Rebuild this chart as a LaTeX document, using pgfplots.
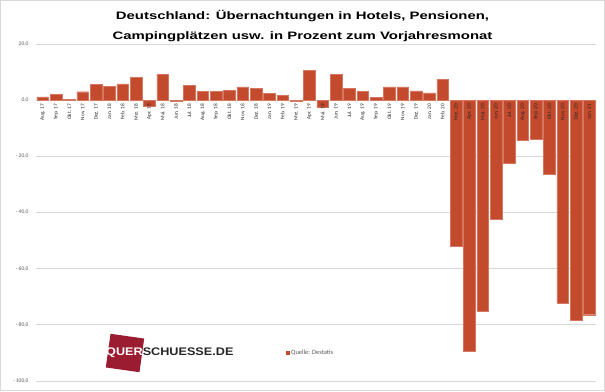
\documentclass[border=0pt]{standalone}
\usepackage{pgfplots}
\pgfplotsset{compat=1.18}
\usepackage{fontspec}
\setmainfont{Carlito}
\newfontfamily\titlefont{Liberation Sans}
\definecolor{barred}{RGB}{196,74,45}
\definecolor{logored}{RGB}{155,27,48}
\definecolor{gridgray}{RGB}{217,217,217}
\definecolor{labgray}{RGB}{89,89,89}
\pgfplotsset{
  common/.style={
    at={(36pt,10pt)}, anchor=south west,
    scale only axis, width=560pt, height=337pt,
    xmin=-0.5, xmax=41.5, ymin=-100, ymax=20,
    axis x line=middle, axis y line=left,
    axis line style={draw=none},
    major tick length=0pt,
    xtick={0,...,41},
  },
}
\begin{document}
\begin{tikzpicture}[x=1pt,y=1pt]
\useasboundingbox (0,0) rectangle (605,391);
\draw[gridgray] (0.5,0.5) rectangle (604.5,390.5);
\node[font=\titlefont\bfseries\fontsize{10.8}{12}\selectfont, anchor=base, xscale=1.38] at (302.5,371) {Deutschland: Übernachtungen in Hotels, Pensionen,};
\node[font=\titlefont\bfseries\fontsize{10.8}{12}\selectfont, anchor=base, xscale=1.38] at (302.5,351.7) {Campingplätzen usw. in Prozent zum Vorjahresmonat};
\begin{axis}[
  common,
  xticklabels={},
  ytick={-100,-80,...,20},
  yticklabels={{- 100,0},{- 80,0},{- 60,0},{- 40,0},{- 20,0},{0,0},{20,0}},
  ymajorgrids, grid style={gridgray, line width=0.7pt},
  yticklabel style={font=\fontsize{5.5}{6}\selectfont, text=labgray, xshift=-4pt},
  legend style={at={(0.44,0.083)}, anchor=west, draw=none, fill=none, font=\fontsize{6.5}{7}\selectfont, text=labgray},
  legend image code/.code={\fill[barred] (0pt,-1.6pt) rectangle (3.2pt,1.6pt);},
]
\addplot[ybar, bar width=0.87, fill=barred, draw=barred!75!white, line width=0.4pt] table[x=i,y=v] {
i v
0 1.2
1 2.1
2 0.4
3 3.0
4 5.6
5 4.8
6 5.8
7 8.2
8 -2.1
9 9.3
10 -0.5
11 5.2
12 3.2
13 3.2
14 3.4
15 4.7
16 4.2
17 2.5
18 1.7
19 -0.4
20 10.6
21 -2.6
22 9.3
23 4.2
24 3.1
25 1.0
26 4.7
27 4.7
28 3.3
29 2.6
30 7.4
31 -52.1
32 -89.3
33 -75.1
34 -42.4
35 -22.6
36 -14.2
37 -13.9
38 -26.5
39 -72.3
40 -78.5
41 -76.4
};
\addlegendentry{Quelle: Destatis}
\end{axis}
\begin{axis}[
  common,
  ytick=\empty,
  xticklabels={Aug. 17,Sep. 17,Okt. 17,Nov. 17,Dez. 17,Jan. 18,Feb. 18,Mrz. 18,Apr. 18,Mai. 18,Jun. 18,Jul. 18,Aug. 18,Sep. 18,Okt. 18,Nov. 18,Dez. 18,Jan. 19,Feb. 19,Mrz. 19,Apr. 19,Mai. 19,Jun. 19,Jul. 19,Aug. 19,Sep. 19,Okt. 19,Nov. 19,Dez. 19,Jan. 20,Feb. 20,Mrz. 20,Apr. 20,Mai. 20,Jun. 20,Jul. 20,Aug. 20,Sep. 20,Okt. 20,Nov. 20,Dez. 20,Jan. 21},
  xticklabel style={font=\fontsize{5.3}{6}\selectfont, text=black!85, rotate=90, anchor=east},
]
\addplot[draw=none, forget plot] coordinates {(0,0)};
\end{axis}
\fill[logored, rotate around={-8:(125,38)}] (108,21) rectangle (142,55);
\node[font=\titlefont\bfseries\fontsize{11}{12}\selectfont, anchor=west, inner sep=0pt, xscale=1.15] at (106,38) {\textcolor{white}{QUER}\textcolor{black!85}{SCHUESSE.DE}};
\end{tikzpicture}
\end{document}
